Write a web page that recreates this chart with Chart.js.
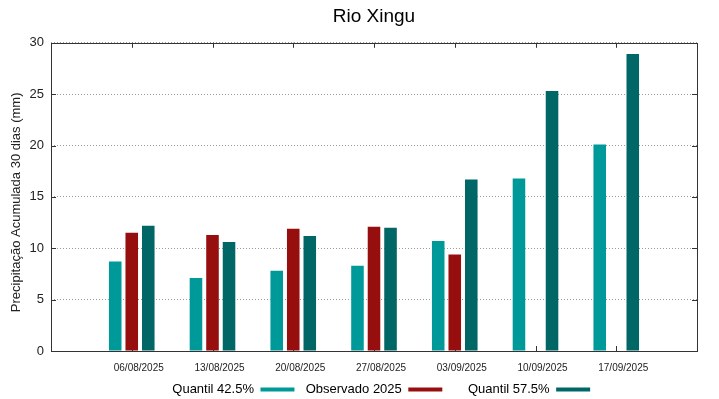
<!DOCTYPE html>
<html>
<head>
<meta charset="utf-8">
<script src="https://cdn.jsdelivr.net/npm/chart.js@4/dist/chart.umd.min.js"></script>
<style>
  html, body { margin: 0; padding: 0; background: #fff; }
  #wrap { width: 719px; height: 399px; }
</style>
</head>
<body>
<div id="wrap"><canvas id="chuva"></canvas></div>
<script>
// dados (mm acumulados em 30 dias)
const datas = ["06/08/2025", "13/08/2025", "20/08/2025", "27/08/2025", "03/09/2025", "10/09/2025", "17/09/2025"];
const quantil425 = [8.7, 7.1, 7.8, 8.3, 10.7, 16.8, 20.1];
const observado2025 = [11.5, 11.3, 11.9, 12.1, 9.4, null, null];
const quantil575 = [12.2, 10.6, 11.2, 12.0, 16.7, 25.3, 28.9];
const yTicks = [0, 5, 10, 15, 20, 25, 30];

// uma categoria vazia em cada ponta, como no gnuplot
const comMargem = (arr) => [null, ...arr, null];
const rotulos = ["", ...datas, ""];

const fonte = "'Liberation Sans', Arial, sans-serif";

// moldura fechada + marcas de escala para dentro
const moldura = {
  id: "moldura",
  beforeDatasetsDraw(chart) {
    const { ctx, chartArea: a, scales: { x, y } } = chart;
    ctx.save();
    ctx.strokeStyle = "#333";
    ctx.lineWidth = 1;
    ctx.beginPath();
    datas.forEach((d, i) => {
      const px = Math.round(x.getPixelForValue(i + 1)) + 0.5;
      ctx.moveTo(px, a.top); ctx.lineTo(px, a.top + 5);
      ctx.moveTo(px, a.bottom); ctx.lineTo(px, a.bottom - 5);
    });
    yTicks.forEach((v) => {
      const py = Math.round(y.getPixelForValue(v)) + 0.5;
      ctx.moveTo(a.left, py); ctx.lineTo(a.left + 5, py);
      ctx.moveTo(a.right, py); ctx.lineTo(a.right - 5, py);
    });
    ctx.stroke();
    ctx.restore();
  },
  afterDraw(chart) {
    const { ctx, chartArea: a } = chart;
    ctx.save();
    ctx.strokeStyle = "#333";
    ctx.lineWidth = 1;
    ctx.strokeRect(Math.round(a.left) + 0.5, Math.round(a.top) + 0.5,
      Math.round(a.right - a.left), Math.round(a.bottom - a.top));
    ctx.restore();
  },
};

new Chart(document.getElementById("chuva"), {
  type: "bar",
  data: {
    labels: rotulos,
    datasets: [
      { label: "    Quantil 42.5%", data: comMargem(quantil425), backgroundColor: "#009999" },
      { label: "  Observado 2025", data: comMargem(observado2025), backgroundColor: "#970e0e" },
      { label: "      Quantil 57.5%", data: comMargem(quantil575), backgroundColor: "#006666" },
    ],
  },
  options: {
    responsive: true,
    maintainAspectRatio: false,
    animation: false,
    layout: { padding: { left: 0, right: 22, top: 0, bottom: -7 } },
    datasets: { bar: { categoryPercentage: 0.614, barPercentage: 0.76 } },
    plugins: {
      tooltip: { enabled: false },
      title: {
        display: true,
        text: "Rio Xingu",
        fullSize: false,
        color: "#000",
        font: { family: fonte, size: 19, weight: "normal" },
        padding: { top: 5, bottom: 15 },
      },
      legend: {
        position: "bottom",
        fullSize: false,
        rtl: true,
        reverse: true,
        textDirection: "ltr",
        labels: {
          boxWidth: 34,
          boxHeight: 4,
          padding: 4,
          color: "#000",
          font: { family: fonte, size: 13 },
        },
      },
    },
    scales: {
      x: {
        offset: false,
        grid: { display: false, drawTicks: false },
        border: { display: false },
        ticks: {
          autoSkip: false,
          maxRotation: 0,
          padding: 11,
          labelOffset: 7,
          color: "#222",
          font: { family: fonte, size: 10 },
        },
        afterFit(scale) { scale.height = 28; },
      },
      y: {
        min: 0,
        max: 30,
        grid: { color: "#9a9a9a", drawTicks: false },
        border: { display: false, dash: [1, 2] },
        ticks: {
          stepSize: 5,
          padding: 7,
          color: "#222",
          font: { family: fonte, size: 13 },
        },
        title: {
          display: true,
          text: "Precipitação Acumulada 30 dias (mm)\u00a0\u00a0\u00a0",
          color: "#222",
          font: { family: fonte, size: 13 },
          padding: { top: 9, bottom: 0 },
        },
        afterFit(scale) { scale.width = 51; },
      },
    },
  },
  plugins: [moldura],
});
</script>
</body>
</html>
